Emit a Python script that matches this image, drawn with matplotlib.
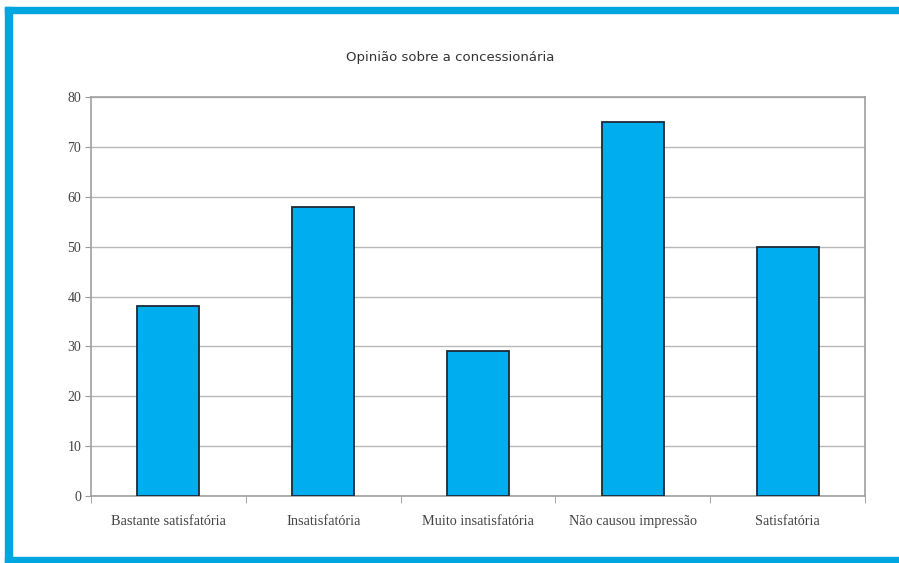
import matplotlib.pyplot as plt
import matplotlib.patches as mpatches
import numpy as np

categories = ['Bastante satisfatória', 'Insatisfatória', 'Muito insatisfatória',
              'Não causou impressão', 'Satisfatória']
values = [38, 58, 29, 75, 50]
yticks = [0, 10, 20, 30, 40, 50, 60, 70, 80]

W, H = 899, 563
fig = plt.figure(figsize=(W / 100, H / 100), dpi=100)
ax = fig.add_axes([91 / W, 1 - 496 / H, (865 - 91) / W, (496 - 97) / H])

x = np.arange(len(categories))
ax.bar(x, values, width=0.4, color='#00aeef', edgecolor='#1c2a36', linewidth=1.3, zorder=3)

ax.set_xlim(-0.5, len(categories) - 0.5)
ax.set_ylim(0, 80)
ax.set_yticks(yticks)
ax.set_yticklabels([str(v) for v in yticks], fontfamily='Liberation Serif', fontsize=10, color='#444444')
ax.yaxis.grid(True, color='#b8b8b8', linewidth=1.0, zorder=0)
ax.tick_params(axis='y', length=4, color='#999999', pad=3)

ax.set_xticks(x)
ax.set_xticklabels(categories, fontfamily='Liberation Serif', fontsize=10.3, color='#444444')
ax.tick_params(axis='x', which='major', length=0, pad=14)
ax.set_xticks(np.arange(len(categories) + 1) - 0.5, minor=True)
ax.tick_params(axis='x', which='minor', length=5, color='#999999')

for s in ax.spines.values():
    s.set_color('#a0a0a0')
    s.set_linewidth(1.2)

fig.text(450 / W, 1 - 58 / H, 'Opinião sobre a concessionária', ha='center', va='center',
         fontsize=9.5, color='#333333', fontfamily='DejaVu Sans')

# blue frame around the figure
blue = '#00a6e0'
fig.patches.append(mpatches.Rectangle((5 / W, 1 - 13 / H), 1 - 5 / W, 6 / H,
                                      transform=fig.transFigure, color=blue, zorder=0))
fig.patches.append(mpatches.Rectangle((5 / W, 0), 7 / W, 1 - 7 / H,
                                      transform=fig.transFigure, color=blue, zorder=0))
fig.patches.append(mpatches.Rectangle((5 / W, 0), 1 - 5 / W, 6 / H,
                                      transform=fig.transFigure, color=blue, zorder=0))

fig.savefig('out.png', dpi=100)
